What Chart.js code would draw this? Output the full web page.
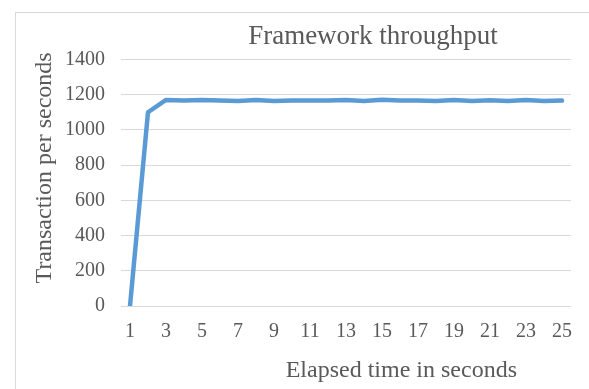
<!DOCTYPE html>
<html>
<head>
<meta charset="utf-8">
<script src="https://cdn.jsdelivr.net/npm/chart.js@4.4.1/dist/chart.umd.min.js"></script>
<style>
  html, body { margin: 0; padding: 0; background: #fff; overflow: hidden; }
  #box { position: absolute; left: 15px; top: 12px; width: 714px; height: 400px; border: 1px solid #d9d9d9; }
</style>
</head>
<body>
<div id="box"><canvas id="throughputChart" width="714" height="400"></canvas></div>
<script>
// 차트 데이터
const seconds = ['1','2','3','4','5','6','7','8','9','10','11','12','13',
                 '14','15','16','17','18','19','20','21','22','23','24','25'];
const tps = [0, 1100, 1170, 1167, 1169, 1167, 1164, 1170, 1164, 1166, 1166, 1166, 1169,
             1164, 1171, 1166, 1166, 1164, 1169, 1164, 1168, 1164, 1169, 1164, 1166];
const yTicks = [0, 200, 400, 600, 800, 1000, 1200, 1400];

const chartTitle = 'Framework throughput';
const xTitle = 'Elapsed time in seconds';
const yTitle = 'Transaction per seconds';

const textColor = '#595959';
const gridColor = '#d9d9d9';
const serif = '"Liberation Serif", "Times New Roman", serif';

// 축 제목 (원본처럼 위치가 약간 치우쳐 있음)
const axisTitlePlugin = {
    id: 'axisTitles',
    afterDraw(chart) {
        const ctx = chart.ctx;
        const a = chart.chartArea;
        ctx.save();
        ctx.font = '24px ' + serif;
        ctx.fillStyle = textColor;
        ctx.textAlign = 'center';
        ctx.textBaseline = 'middle';
        ctx.fillText(xTitle, a.left + (a.right - a.left) * 0.623, a.bottom + 65);
        ctx.translate(a.left - 76, a.top + (a.bottom - a.top) * 0.44);
        ctx.rotate(-Math.PI / 2);
        ctx.fillText(yTitle, 0, 0);
        ctx.restore();
    }
};

new Chart(document.getElementById('throughputChart'), {
    type: 'line',
    data: {
        labels: seconds,
        datasets: [{
            label: 'Throughput',
            data: tps,
            borderColor: '#5b9bd5',
            borderWidth: 4.5,
            borderCapStyle: 'round',
            borderJoinStyle: 'round',
            tension: 0,
            pointRadius: 0,
            fill: false
        }]
    },
    options: {
        responsive: false,
        animation: false,
        devicePixelRatio: 1,
        layout: { padding: 0 },
        plugins: {
            legend: { display: false },
            tooltip: { enabled: false },
            title: {
                display: true,
                text: chartTitle,
                color: textColor,
                font: { family: serif, size: 27, weight: 'normal' },
                padding: { top: 8, bottom: 6 }
            }
        },
        scales: {
            x: {
                offset: true,
                grid: { display: false, drawTicks: false },
                border: { display: false },
                ticks: {
                    color: textColor,
                    font: { family: serif, size: 20 },
                    padding: 14,
                    autoSkip: false,
                    maxRotation: 0,
                    callback: function (val, i) { return i % 2 === 0 ? seconds[i] : ''; }
                },
                afterFit: s => { s.height = 107; }
            },
            y: {
                min: 0,
                max: 1400,
                afterBuildTicks: s => { s.ticks = yTicks.map(v => ({ value: v })); },
                grid: { color: gridColor, lineWidth: 1, drawTicks: false },
                border: { display: false },
                ticks: {
                    color: textColor,
                    font: { family: serif, size: 20 },
                    padding: 16,
                    callback: v => String(v)
                },
                afterFit: s => { s.width = 105; }
            },
            pad: {
                position: 'right',
                grid: { display: false },
                border: { display: false },
                ticks: { display: false },
                afterFit: s => { s.width = 159; }
            }
        }
    },
    plugins: [axisTitlePlugin]
});
</script>
</body>
</html>
